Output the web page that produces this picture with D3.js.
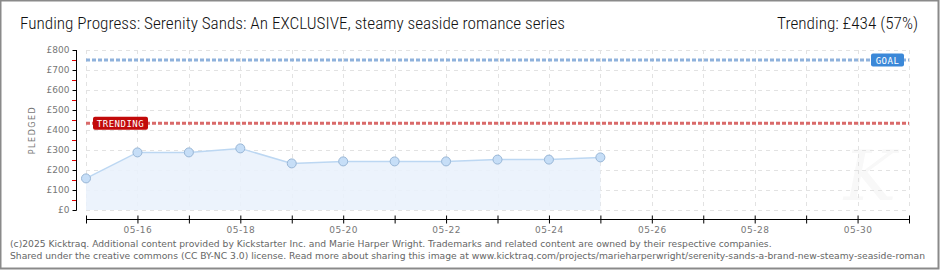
<!DOCTYPE html>
<html>
<head>
<meta charset="utf-8">
<script src="https://cdn.jsdelivr.net/npm/d3@7"></script>
<style>
  body { margin: 0; background: #fff; }
  svg { display: block; }
</style>
</head>
<body>
<div id="chart"></div>
<script>
// chart data
const days = ["2025-05-15","2025-05-16","2025-05-17","2025-05-18","2025-05-19","2025-05-20",
              "2025-05-21","2025-05-22","2025-05-23","2025-05-24","2025-05-25"];
const pledged = [158, 288, 288, 308, 233, 243, 243, 243, 252, 252, 263];
const goal = 750;
const trending = 434;
const yTicks = [0, 100, 200, 300, 400, 500, 600, 700, 800];
const titleText = "Funding Progress: Serenity Sands: An EXCLUSIVE, steamy seaside romance series";
const trendText = "Trending:  £434 (57%)";
const footer = [
    "(c)2025 Kicktraq. Additional content provided by Kickstarter Inc. and Marie Harper Wright. Trademarks and related content are owned by their respective companies.",
    "Shared under the creative commons (CC BY-NC 3.0) license. Read more about sharing this image at www.kicktraq.com/projects/marieharperwright/serenity-sands-a-brand-new-steamy-seaside-roman"
];

const W = 940, H = 270;
const parse = d3.utcParse("%Y-%m-%d");
const data = days.map((d, i) => ({ date: parse(d), value: pledged[i] }));

const x = d3.scaleUtc()
    .domain([parse("2025-05-15"), parse("2025-05-31")])
    .range([86, 909]);
const y = d3.scaleLinear().domain([0, 800]).range([210, 50]);

const svg = d3.select("#chart").append("svg")
    .attr("width", W).attr("height", H);

// outer frame
svg.append("rect")
    .attr("x", 0.5).attr("y", 0.5)
    .attr("width", W - 2).attr("height", H - 2)
    .attr("fill", "#fff").attr("stroke", "#8a8a8a").attr("stroke-width", 2);

// title
svg.append("text")
    .attr("x", 20).attr("y", 29)
    .style("font-family", "'Liberation Sans Narrow', 'Roboto Condensed', 'Liberation Sans', sans-serif")
    .style("font-size", "17.2px")
    .style("font-weight", 300)
    .attr("fill", "#111")
    .text(titleText);

svg.append("text")
    .attr("x", 918).attr("y", 29)
    .attr("text-anchor", "end")
    .style("font-family", "'Liberation Sans Narrow', 'Roboto Condensed', 'Liberation Sans', sans-serif")
    .style("font-size", "17.2px")
    .style("font-weight", 300)
    .attr("fill", "#111")
    .text(trendText);

// watermark K
svg.append("text")
    .attr("x", 870).attr("y", 200)
    .attr("text-anchor", "middle")
    .style("font-family", "'DejaVu Serif', serif")
    .style("font-style", "italic")
    .style("font-size", "70px")
    .attr("fill", "#f8f8f8")
    .text("K");

const allDays = d3.utcDay.range(x.domain()[0], d3.utcDay.offset(x.domain()[1], 1));

// grid
const grid = svg.append("g").attr("stroke", "#e2e2e2").attr("stroke-dasharray", "4,4");
grid.selectAll(".gy").data(yTicks).enter().append("line")
    .attr("x1", 86).attr("x2", 909)
    .attr("y1", d => y(d) + 0.5).attr("y2", d => y(d) + 0.5);
grid.selectAll(".gx").data(allDays).enter().append("line")
    .attr("x1", d => Math.round(x(d)) + 0.5).attr("x2", d => Math.round(x(d)) + 0.5)
    .attr("y1", 50).attr("y2", 210);

// area + line
const area = d3.area()
    .x(d => x(d.date)).y0(y(0)).y1(d => y(d.value));
svg.append("path").datum(data)
    .attr("d", area)
    .attr("fill", "#eaf2fc").attr("fill-opacity", 0.9);
svg.append("path").datum(data)
    .attr("d", d3.line().x(d => x(d.date)).y(d => y(d.value)))
    .attr("fill", "none").attr("stroke", "#bcd7f2").attr("stroke-width", 1.5);

// goal and trending lines
svg.append("line")
    .attr("x1", 86).attr("x2", 909)
    .attr("y1", y(goal)).attr("y2", y(goal))
    .attr("stroke", "#8fb2dc").attr("stroke-width", 3).attr("stroke-dasharray", "4,2");
svg.append("line")
    .attr("x1", 86).attr("x2", 909)
    .attr("y1", y(trending)).attr("y2", y(trending))
    .attr("stroke", "#d96a6a").attr("stroke-width", 3).attr("stroke-dasharray", "4,2");

// points
svg.selectAll(".pt").data(data).enter().append("circle")
    .attr("cx", d => x(d.date)).attr("cy", d => y(d.value))
    .attr("r", 4.5)
    .attr("fill", "#c6def7").attr("stroke", "#98b6d6").attr("stroke-width", 1);

// labels on lines
function tag(cx, cy, w, fill, label) {
    const g = svg.append("g");
    g.append("rect")
        .attr("x", cx).attr("y", cy - 6.5)
        .attr("width", w).attr("height", 13)
        .attr("rx", 2)
        .attr("fill", fill);
    g.append("text")
        .attr("x", cx + w / 2).attr("y", cy + 3.5)
        .attr("text-anchor", "middle")
        .style("font-family", "'DejaVu Sans Mono', monospace")
        .style("font-size", "9px")
        .style("letter-spacing", "0.5px")
        .attr("fill", "#fff")
        .text(label);
}
tag(93, y(trending), 55, "#c20a0a", "TRENDING");
tag(871, y(goal), 33, "#3b88d8", "GOAL");

// y axis
const yAxis = svg.append("g")
    .attr("transform", "translate(76.5,0)")
    .call(d3.axisLeft(y).tickValues(yTicks).tickSize(4).tickFormat(d => "£" + d));
yAxis.select(".domain").attr("stroke", "#000").attr("d", "M0," + y(800) + "V" + (y(0) + 0.5));
yAxis.selectAll("text")
    .style("font-family", "'DejaVu Sans', sans-serif")
    .style("font-size", "9px")
    .attr("fill", "#777");
svg.append("g").selectAll("line").data(d3.range(50, 800, 100)).enter().append("line")
    .attr("x1", 72).attr("x2", 76)
    .attr("y1", d => y(d) + 0.5).attr("y2", d => y(d) + 0.5)
    .attr("stroke", "#e00000");

svg.append("text")
    .attr("transform", "translate(35," + y(400) + ") rotate(-90)")
    .attr("text-anchor", "middle")
    .style("font-family", "'DejaVu Sans', sans-serif")
    .style("font-size", "8px")
    .style("letter-spacing", "1.5px")
    .attr("fill", "#777")
    .text("PLEDGED");

// x axis
const xAxis = svg.append("g")
    .attr("transform", "translate(0,219.5)")
    .call(d3.axisBottom(x).tickValues(allDays).tickSize(4).tickSizeOuter(0)
        .tickFormat(d => d.getUTCDate() % 2 === 0 ? d3.utcFormat("%m-%d")(d) : ""));
xAxis.select(".domain").attr("stroke", "#000").attr("d", "M86,0H909");
xAxis.selectAll(".tick line").attr("y1", -4).attr("y2", 4);
xAxis.selectAll("text")
    .attr("y", 7)
    .style("font-family", "'DejaVu Sans', sans-serif")
    .style("font-size", "9px")
    .style("letter-spacing", "0.5px")
    .attr("fill", "#777");

// footer
svg.selectAll(".foot").data(footer).enter().append("text")
    .attr("x", 10).attr("y", (d, i) => 247 + i * 12)
    .style("font-family", "'DejaVu Sans', sans-serif")
    .style("font-size", "9.2px")
    .attr("fill", "#666")
    .text(d => d);
</script>
</body>
</html>
